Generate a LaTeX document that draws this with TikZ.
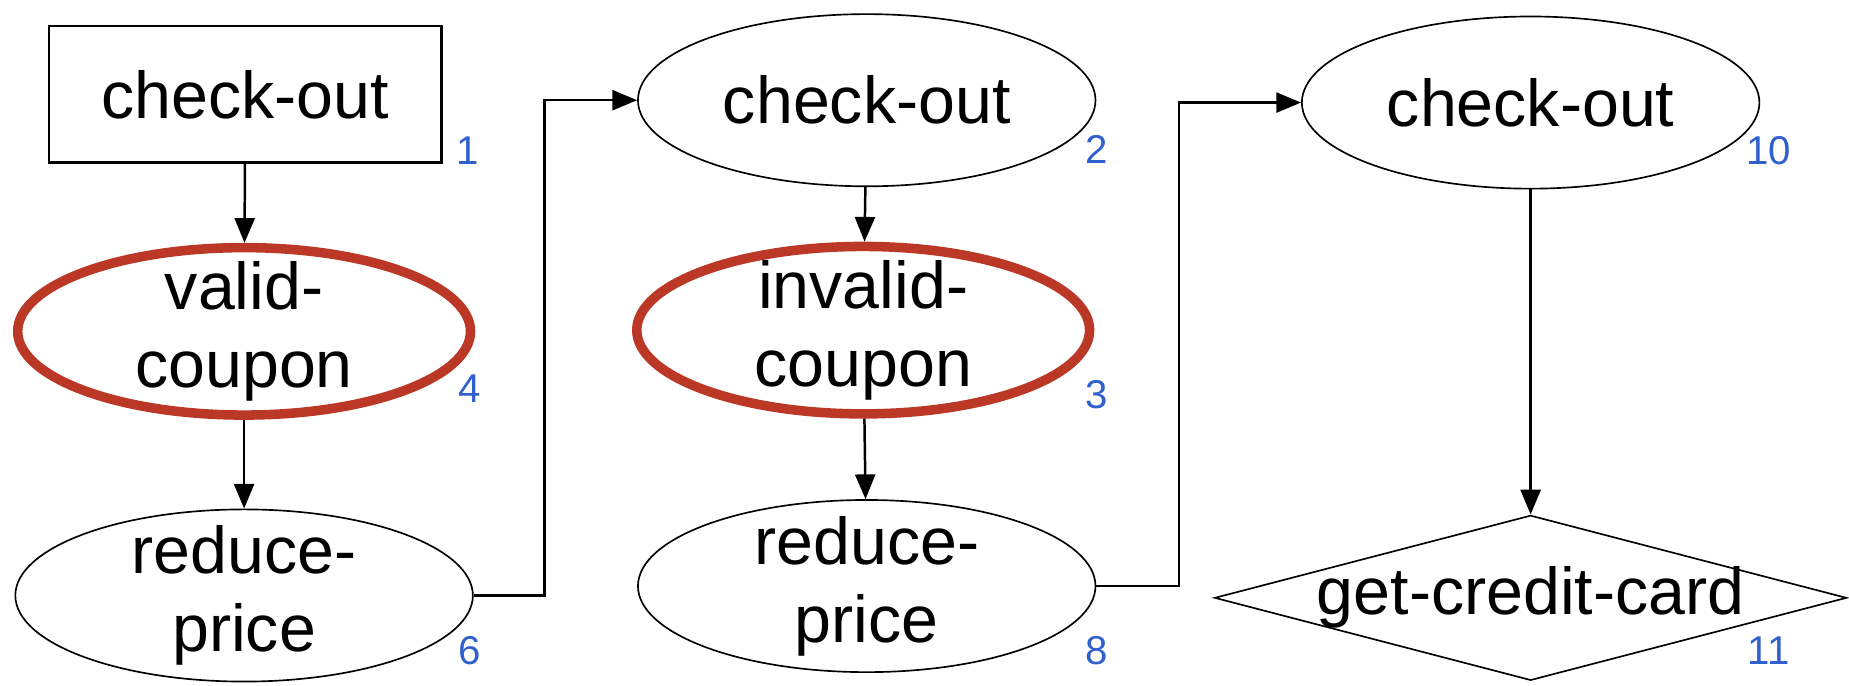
\documentclass[tikz,border=0pt]{standalone}
\usepackage{fontspec}
\setmainfont{Liberation Sans}
\usetikzlibrary{shapes.geometric,arrows.meta}
\definecolor{ringred}{RGB}{188,56,38}
\definecolor{numblue}{RGB}{48,96,205}
\tikzset{every picture/.style={line width=0.6pt}}
\tikzset{
  act/.style={font=\fontsize{16}{18.8}\selectfont, align=center, inner sep=0pt},
  start/.style={act, draw, rectangle, minimum width=3.33cm, minimum height=1.16cm},
  state/.style={act, draw, ellipse, line width=0.4pt, minimum width=3.88cm, minimum height=1.46cm},
  coupon/.style={draw=ringred, ellipse, line width=2.3pt, inner sep=0pt, minimum width=3.84cm, minimum height=1.42cm},
  choice/.style={draw, diamond, line width=0.4pt, inner sep=0pt, minimum width=5.36cm, minimum height=1.40cm},
  num/.style={font=\fontsize{9.7}{10}\selectfont, text=numblue, inner sep=0pt},
  flow/.style={-{Triangle[length=0.21cm,width=0.17cm]}}
}

\begin{document}
\begin{tikzpicture}
    	\useasboundingbox (0,0) rectangle (15.68,5.81);
    	\node[start](C1) at (2.08, 5.01){check-out};
    	\node[coupon](V4) at (2.07, 3.00){} node[act](T4) at (V4.center){valid-\\coupon};
    	\node[state, minimum height=1.46cm](R6) at (2.07, 0.76){} node[act](T6) at (R6.center){reduce-\\price};
    	\node[state](C2) at (7.35, 4.96){check-out};
    	\node[coupon](I3) at (7.32, 3.01){} node[act](T3) at (I3.center){invalid-\\coupon};
    	\node[state](R8) at (7.35, 0.84){} node[act](T8) at (R8.center){reduce-\\price};
    	\node[state](C10) at (12.98, 4.94){check-out};
    	\node[choice](G11) at (12.98, 0.74){} node[act](T11) at (G11.center){get-credit-card};
    	\node[num](L1) at (3.97, 4.53){1};
    	\node[num](L4) at (3.98, 2.51){4};
    	\node[num](L6) at (3.98, 0.29){6};
    	\node[num](L2) at (9.30, 4.54){2};
    	\node[num](L3) at (9.30, 2.46){3};
    	\node[num](L8) at (9.30, 0.29){8};
    	\node[num](L10) at (15.00, 4.53){10};
    	\node[num](L11) at (15.00, 0.29){11};
    	\draw[flow] (C1) -- (V4);
    	\draw[flow] (V4) -- (R6);
    	\draw[flow] (R6.east) -- ++(0.6, 0) |- (C2.west);
    	\draw[flow] (C2) -- (I3);
    	\draw[flow] (I3) -- (R8);
    	\draw[flow] (R8.east) -- ++(0.7, 0) |- (C10.west);
    	\draw[flow] (C10) -- (G11);
    \end{tikzpicture}
\end{document}
